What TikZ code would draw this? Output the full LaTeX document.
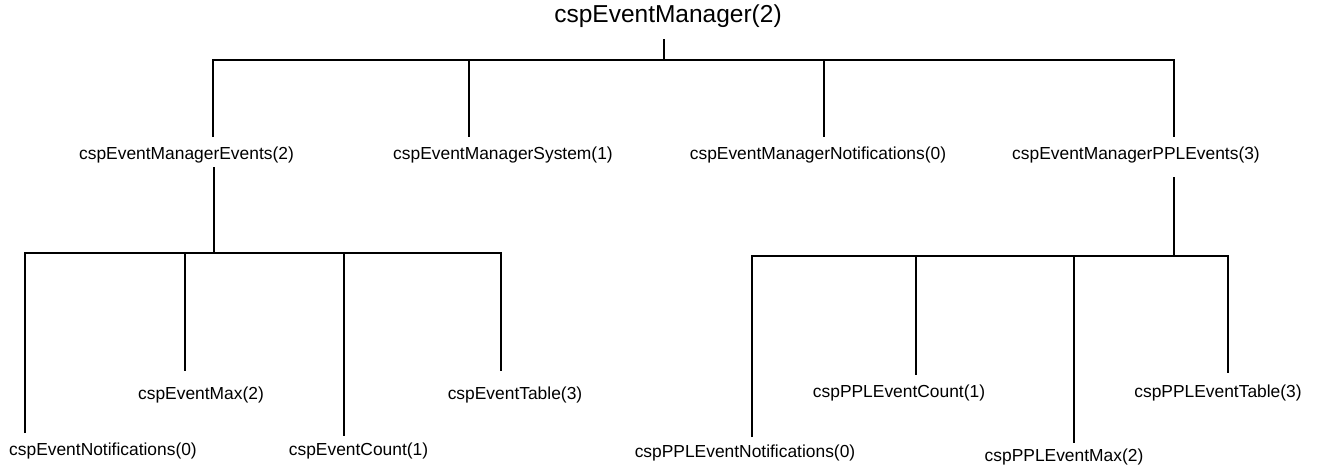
\documentclass[tikz,border=0pt]{standalone}
\usepackage{fontspec}
\setmainfont{Liberation Sans}
\begin{document}
\begin{tikzpicture}[x=1pt,y=-1pt,
  lbl/.style={font=\fontsize{17.4}{20}\selectfont, inner sep=0pt},
  rootlbl/.style={font=\fontsize{24.5}{28}\selectfont, inner sep=0pt},
  link/.style={line width=2.6pt, line join=miter}]
\useasboundingbox (0,0) rectangle (1321,464);

% labels
\node[rootlbl] (root) at (668,16) {cspEventManager(2)};
\node[lbl] (ev)  at (186.5,155) {cspEventManagerEvents(2)};
\node[lbl] (sys) at (503,155) {cspEventManagerSystem(1)};
\node[lbl] (nt)  at (818,155) {cspEventManagerNotifications(0)};
\node[lbl] (ppl) at (1136,155) {cspEventManagerPPLEvents(3)};

\node[lbl] (enot) at (103,451) {cspEventNotifications(0)};
\node[lbl] (emax) at (201,395) {cspEventMax(2)};
\node[lbl] (ecnt) at (358.5,451) {cspEventCount(1)};
\node[lbl] (etab) at (515,395) {cspEventTable(3)};

\node[lbl] (pnot) at (745,453) {cspPPLEventNotifications(0)};
\node[lbl] (pcnt) at (899,393) {cspPPLEventCount(1)};
\node[lbl] (pmax) at (1064,457) {cspPPLEventMax(2)};
\node[lbl] (ptab) at (1218,393) {cspPPLEventTable(3)};

% junction coordinates
\coordinate (r0) at (664,39);
\coordinate (rb) at (664,60);
\coordinate (h1) at (213,60);  \coordinate (t1) at (213,137);
\coordinate (h2) at (469,60);  \coordinate (t2) at (469,137);
\coordinate (h3) at (824,60);  \coordinate (t3) at (824,137);
\coordinate (h4) at (1174,60); \coordinate (t4) at (1174,137);

\coordinate (ls) at (214,167); \coordinate (lb) at (214,253);
\coordinate (la) at (25,253);  \coordinate (la2) at (25,433);
\coordinate (lm) at (185,253); \coordinate (lm2) at (185,371);
\coordinate (lc) at (344,253); \coordinate (lc2) at (344,436);
\coordinate (lt) at (501,253); \coordinate (lt2) at (501,371);

\coordinate (rs) at (1174,177); \coordinate (rbb) at (1174,256);
\coordinate (ra) at (752,256);  \coordinate (ra2) at (752,437);
\coordinate (rc) at (916,256);  \coordinate (rc2) at (916,375);
\coordinate (rm) at (1074,256); \coordinate (rm2) at (1074,443);
\coordinate (rt) at (1228,256); \coordinate (rt2) at (1228,373);

% top level
\draw[link] (r0) -- (rb);
\draw[link] (t1) -- (h1) -- (h4) -- (t4);
\draw[link] (h2) -- (t2);
\draw[link] (h3) -- (t3);

% left subtree
\draw[link] (ls) -- (lb);
\draw[link] (la2) -- (la) -- (lt) -- (lt2);
\draw[link] (lm) -- (lm2);
\draw[link] (lc) -- (lc2);

% right subtree
\draw[link] (rs) -- (rbb);
\draw[link] (ra2) -- (ra) -- (rt) -- (rt2);
\draw[link] (rc) -- (rc2);
\draw[link] (rm) -- (rm2);
\end{tikzpicture}
\end{document}
